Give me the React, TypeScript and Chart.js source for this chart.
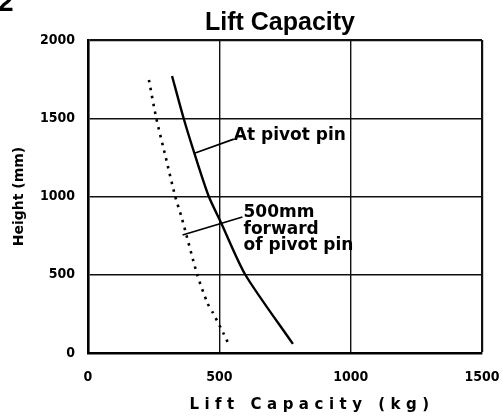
import React, { useEffect, useRef } from 'react';
import { Chart, registerables } from 'chart.js';

Chart.register(...registerables);

// ---- data ----
const xTickValues = [0, 500, 1000, 1500];
const yTickValues = [0, 500, 1000, 1500, 2000];

const atPivotLoad = [320, 364, 410, 460, 507, 599, 780];
const atPivotHeight = [1770, 1500, 1250, 1000, 831, 500, 58];

const forwardLoad = [232, 260, 296, 332, 356, 416, 455, 476, 515, 537];
const forwardHeight = [1744, 1500, 1250, 1000, 869, 500, 318, 256, 128, 51];

const chartTitle = 'Lift Capacity';
const xTitle = 'Lift Capacity (kg)';
const yTitle = 'Height (mm)';
const labelAtPivot = ['At pivot pin'];
const labelForward = ['500mm', 'forward', 'of pivot pin'];
const figureNumber = '2';

const toPoints = (xs: number[], ys: number[]) => xs.map((v, i) => ({ x: v, y: ys[i] }));

const tickFont = { family: '"DejaVu Sans Condensed", "DejaVu Sans", sans-serif', weight: 'bold' as const, size: 14 };

const decorPlugin = {
  id: 'decor',
  afterDraw(chart: any) {
    const { ctx, scales, chartArea } = chart;
    const x = scales.x;
    const y = scales.y;
    const px = (v: number) => x.getPixelForValue(v);
    const py = (v: number) => y.getPixelForValue(v);
    ctx.save();
    ctx.fillStyle = '#000';
    ctx.strokeStyle = '#000';

    // figure number (cut off at the top)
    ctx.font = 'bold 28px "Liberation Sans", sans-serif';
    ctx.textAlign = 'left';
    ctx.textBaseline = 'alphabetic';
    ctx.fillText(figureNumber, -2, 11);

    // chart title
    ctx.font = 'bold 25px "Liberation Sans", sans-serif';
    ctx.textAlign = 'center';
    ctx.fillText(chartTitle, (chartArea.left + chartArea.right) / 2 - 5, 30);

    // x axis title (letter-spaced)
    ctx.font = 'bold 15px "DejaVu Sans", sans-serif';
    ctx.textAlign = 'center';
    (ctx as any).letterSpacing = '5.5px';
    ctx.fillText(xTitle, (chartArea.left + chartArea.right) / 2 + 27, 409);
    (ctx as any).letterSpacing = '0px';

    // leader lines
    ctx.lineWidth = 1.8;
    ctx.beginPath();
    ctx.moveTo(px(408), py(1278));
    ctx.lineTo(px(555), py(1367));
    ctx.moveTo(px(360), py(754));
    ctx.lineTo(px(588), py(869));
    ctx.stroke();

    // annotation labels
    ctx.font = 'bold 17px "DejaVu Sans", sans-serif';
    ctx.textAlign = 'left';
    ctx.textBaseline = 'alphabetic';
    const ax = px(555);
    const ay = py(1362);
    labelAtPivot.forEach((t, i) => ctx.fillText(t, ax, ay + i * 16.5));
    const bx = px(592);
    const by = py(869);
    labelForward.forEach((t, i) => ctx.fillText(t, bx, by + i * 16.5));

    ctx.restore();
  },
};

export default function App() {
  const canvasRef = useRef<HTMLCanvasElement | null>(null);

  useEffect(() => {
    const canvas = canvasRef.current;
    if (!canvas) return;
    const gridWidth = (c: any, edge: number) => (c.tick && c.tick.value === edge ? 2.2 : 1.4);
    const chart = new Chart(canvas, {
      type: 'line',
      data: {
        datasets: [
          {
            label: 'At pivot pin',
            data: toPoints(atPivotLoad, atPivotHeight),
            borderColor: '#000',
            borderWidth: 2.4,
            pointRadius: 0,
            tension: 0.25,
            fill: false,
          },
          {
            label: '500mm forward of pivot pin',
            data: toPoints(forwardLoad, forwardHeight),
            borderColor: '#000',
            borderWidth: 2.6,
            borderDash: [2.5, 5.5],
            pointRadius: 0,
            tension: 0.25,
            fill: false,
          },
        ],
      },
      options: {
        responsive: false,
        animation: false,
        layout: { padding: { top: 40, right: 21, bottom: 0, left: 0 } },
        plugins: {
          legend: { display: false },
          title: { display: false },
          tooltip: { enabled: false },
        },
        scales: {
          x: {
            type: 'linear',
            min: 0,
            max: 1500,
            afterBuildTicks: (s: any) => {
              s.ticks = xTickValues.map((v) => ({ value: v }));
            },
            afterFit: (s: any) => {
              s.height = 63;
              s.paddingLeft = 0;
              s.paddingRight = 0;
            },
            ticks: {
              padding: 16,
              color: '#000',
              font: tickFont,
              callback: (v: any) => String(v),
            },
            grid: {
              color: '#111',
              lineWidth: (c: any) => gridWidth(c, 1500),
              drawTicks: false,
            },
            border: { display: true, color: '#000', width: 2.6 },
            title: { display: false },
          },
          y: {
            type: 'linear',
            min: 0,
            max: 2000,
            afterBuildTicks: (s: any) => {
              s.ticks = yTickValues.map((v) => ({ value: v }));
            },
            afterFit: (s: any) => {
              s.width = 88;
              s.paddingTop = 0;
              s.paddingBottom = 0;
            },
            ticks: {
              padding: 13,
              color: '#000',
              font: tickFont,
              callback: (v: any) => String(v),
            },
            grid: {
              color: '#111',
              lineWidth: (c: any) => gridWidth(c, 2000),
              drawTicks: false,
            },
            border: { display: true, color: '#000', width: 2.6 },
            title: {
              display: true,
              text: yTitle,
              color: '#000',
              font: { family: '"DejaVu Sans", sans-serif', weight: 'bold', size: 14 },
              padding: { top: 11, bottom: 0 },
            },
          },
        },
      },
      plugins: [decorPlugin],
    });
    return () => chart.destroy();
  }, []);

  return (
    <div style={{ position: 'absolute', left: 0, top: 0, width: 503, height: 416, background: '#fff' }}>
      <canvas ref={canvasRef} width={503} height={416} style={{ width: 503, height: 416, display: 'block' }} />
    </div>
  );
}
